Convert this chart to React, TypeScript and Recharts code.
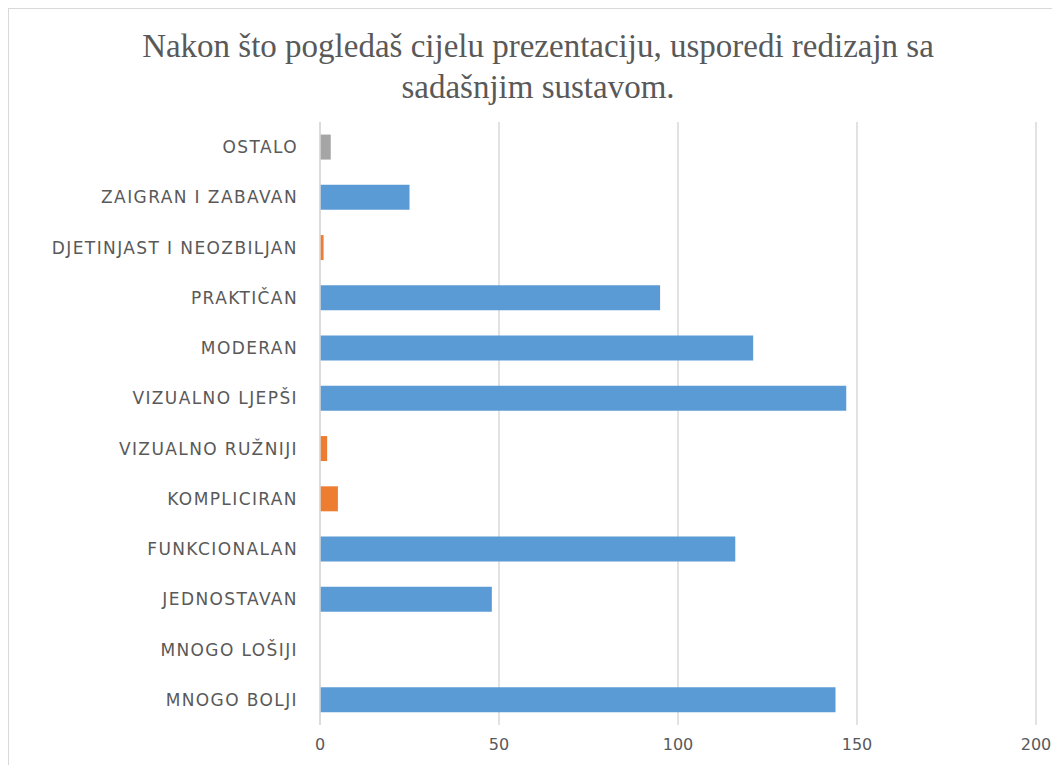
import { BarChart, Bar, Cell, XAxis, YAxis, CartesianGrid } from 'recharts';

const categories = [
  'OSTALO',
  'ZAIGRAN I ZABAVAN',
  'DJETINJAST I NEOZBILJAN',
  'PRAKTIČAN',
  'MODERAN',
  'VIZUALNO LJEPŠI',
  'VIZUALNO RUŽNIJI',
  'KOMPLICIRAN',
  'FUNKCIONALAN',
  'JEDNOSTAVAN',
  'MNOGO LOŠIJI',
  'MNOGO BOLJI',
];

const values = [3, 25, 1, 95, 121, 147, 2, 5, 116, 48, 0, 144];

// kind of answer: positive, negative or other
const kinds = [
  'other', 'positive', 'negative', 'positive', 'positive', 'positive',
  'negative', 'negative', 'positive', 'positive', 'negative', 'positive',
];

const xTicks = [0, 50, 100, 150, 200];

const kindColors: Record<string, string> = {
  positive: '#5b9bd5',
  negative: '#ed7d31',
  other: '#a5a5a5',
};

const chartData = categories.map((name, i) => ({
  name,
  value: values[i],
  kind: kinds[i],
}));

const textColor = '#595959';
const labelFont = "'DejaVu Sans', sans-serif";

export default function App() {
  return (
    <div
      style={{
        position: 'relative',
        width: 1051,
        height: 756,
        borderLeft: '1px solid #d9d9d9',
        borderTop: '1px solid #d9d9d9',
        overflow: 'hidden',
        background: '#fff',
      }}
    >
      <div
        style={{
          position: 'absolute',
          left: 0,
          top: 17,
          width: 1058,
          textAlign: 'center',
          fontFamily: "'Liberation Serif', serif",
          fontSize: 33,
          lineHeight: '41px',
          color: textColor,
        }}
      >
        Nakon što pogledaš cijelu prezentaciju, usporedi redizajn sa
        <br />
        sadašnjim sustavom.
      </div>
      <div style={{ position: 'absolute', left: 0, top: 0 }}>
        <BarChart
          width={1051}
          height={756}
          layout="vertical"
          data={chartData}
          barCategoryGap="25%"
          margin={{ top: 113, right: 24, left: 0, bottom: 10 }}
        >
          <CartesianGrid horizontal={false} stroke="#d9d9d9" strokeWidth={1.5} />
          <XAxis
            type="number"
            domain={[0, 200]}
            ticks={xTicks}
            axisLine={false}
            tickLine={false}
            tickMargin={8}
            height={30}
            tick={{ fill: textColor, fontSize: 16, fontFamily: labelFont }}
          />
          <YAxis
            type="category"
            dataKey="name"
            width={311}
            axisLine={{ stroke: '#d9d9d9', strokeWidth: 1.5 }}
            tickLine={false}
            tickMargin={16}
            interval={0}
            tick={{ fill: textColor, fontSize: 17, fontFamily: labelFont, letterSpacing: 1.4 }}
          />
          <Bar dataKey="value" isAnimationActive={false}>
            {chartData.map((entry) => (
              <Cell key={`cell-${entry.name}`} fill={kindColors[entry.kind]} />
            ))}
          </Bar>
        </BarChart>
      </div>
    </div>
  );
}
